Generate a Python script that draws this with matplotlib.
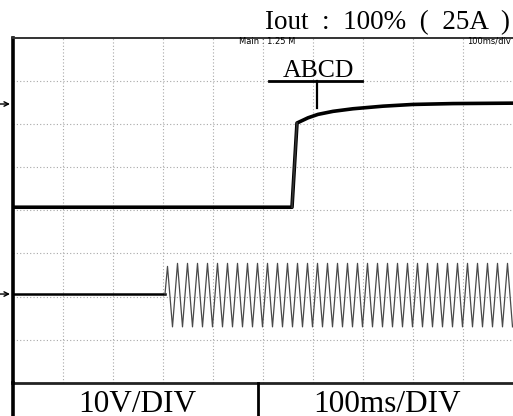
import numpy as np
import matplotlib.pyplot as plt
from matplotlib.lines import Line2D

W, H = 513, 416

# screen units: x in ms (100 ms/div), y in divisions from bottom of graticule
ch1_time_ms = [0, 558, 568, 590, 610, 640, 680, 740, 800, 880, 1000]
ch1_div = [4.07, 4.07, 6.02, 6.14, 6.22, 6.29, 6.35, 6.41, 6.45, 6.47, 6.48]

ch2_level_div = 2.06          # idle level before AC appears
ch2_start_ms = 304
ch2_period_ms = 20
# per-cycle positive / negative extremes (div)
ch2_peaks = [2.70] + [2.77] * 34
ch2_troughs = [1.30] * 35

marker_div = [6.46, 2.06]     # channel ground markers on the left

title = "Iout  :  100%  (  25A  )"
volt_label = "10V/DIV"
time_label = "100ms/DIV"
note = "ABCD"


def px(x, y):
    """pixel -> figure fraction"""
    return x / W, 1 - y / H


def main():
    fig = plt.figure(figsize=(W / 100, H / 100), dpi=100)
    fig.patch.set_facecolor("white")

    left, top, right, bottom = 13, 37.5, 513, 383
    ax = fig.add_axes([left / W, 1 - bottom / H, (right - left) / W, (bottom - top) / H])
    ax.set_xlim(0, 1000)
    ax.set_ylim(0, 8)
    ax.set_xticks(np.arange(100, 1000, 100))
    ax.set_yticks(np.arange(1, 8))
    ax.tick_params(length=0, labelbottom=False, labelleft=False)
    ax.grid(True, color="#a8a8a8", linestyle=(0, (1, 2)), linewidth=0.8)
    ax.spines["right"].set_visible(False)
    ax.spines["left"].set_linewidth(2.6)
    ax.spines["top"].set_linewidth(1.4)
    ax.spines["top"].set_color("#333333")
    ax.spines["bottom"].set_linewidth(2.0)
    ax.spines["bottom"].set_color("#222222")

    # channel 1: output step
    ax.plot(ch1_time_ms, ch1_div, color="black", linewidth=2.6,
            solid_capstyle="butt", zorder=3)
    ax.plot(ch1_time_ms[1:3], ch1_div[1:3], color="#333333", linewidth=1.2, zorder=4)

    # channel 2: AC input, built from the read extremes
    t = [0, ch2_start_ms]
    v = [ch2_level_div, ch2_level_div]
    for i, (p, q) in enumerate(zip(ch2_peaks, ch2_troughs)):
        t0 = ch2_start_ms + i * ch2_period_ms
        t += [t0 + ch2_period_ms * 0.25, t0 + ch2_period_ms * 0.75]
        v += [p, q]
    ax.plot(t[:2], v[:2], color="black", linewidth=1.8, zorder=3)
    ax.plot(t[1:], v[1:], color="#4a4a4a", linewidth=0.9, zorder=3)

    # small scope annotations
    fig.text(*px(267, 41.5), "Main : 1.25 M", fontsize=6,
             family=["Liberation Sans Narrow", "DejaVu Sans"],
             ha="center", va="center")
    fig.text(*px(511, 41), "100ms/div", fontsize=6,
             family=["Liberation Sans Narrow", "DejaVu Sans"],
             ha="right", va="center")

    # title
    fig.text(*px(510, 29), title, fontsize=19.5, family="Liberation Serif",
             ha="right", va="baseline")

    # ABCD callout
    fig.text(*px(318, 77), note, fontsize=18.5, family="Liberation Serif",
             ha="center", va="baseline")
    fig.add_artist(Line2D([269 / W, 362 / W], [1 - 81 / H, 1 - 81 / H],
                          color="black", linewidth=2.0))
    fig.add_artist(Line2D([317 / W, 317 / W], [1 - 81 / H, 1 - 108 / H],
                          color="black", linewidth=1.6))

    # channel markers
    for m in marker_div:
        y = 1 - (bottom - m * (bottom - top) / 8) / H
        ax.annotate("", xy=(10 / W, y), xytext=(0, y), xycoords="figure fraction",
                    arrowprops=dict(arrowstyle="->", color="black", lw=1.0,
                                    shrinkA=0, shrinkB=0, mutation_scale=8),
                    annotation_clip=False)

    # lower scale box
    fig.add_artist(Line2D([13 / W, 13 / W], [1 - bottom / H, 0],
                          color="black", linewidth=2.6))
    fig.add_artist(Line2D([258 / W, 258 / W], [1 - bottom / H, 0],
                          color="black", linewidth=2.0))
    fig.text(*px(137, 411.5), volt_label, fontsize=22.5, family="Liberation Serif",
             ha="center", va="baseline")
    fig.text(*px(387, 411.5), time_label, fontsize=22.5, family="Liberation Serif",
             ha="center", va="baseline")

    fig.savefig("out.png", dpi=100)
    plt.close(fig)


if __name__ == "__main__":
    main()
